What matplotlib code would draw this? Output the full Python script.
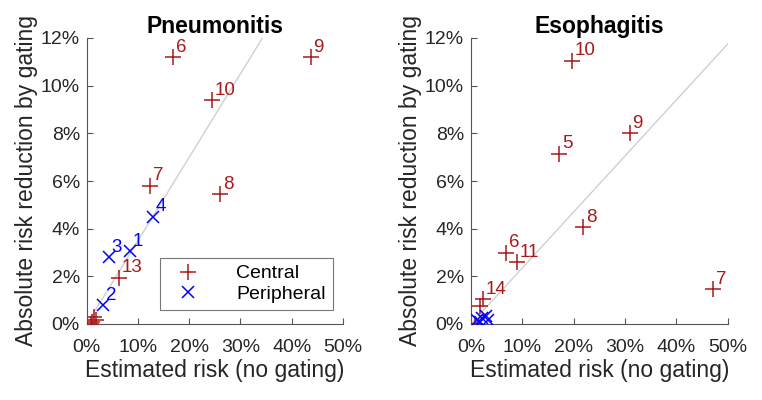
import matplotlib.pyplot as plt
import numpy as np

plt.rcParams['font.family'] = ['Liberation Sans', 'DejaVu Sans']

RED = '#A8191C'
BLUE = '#0000FF'

# Pneumonitis: estimated risk (%), absolute risk reduction (%), label
pn_central_x = [16.9, 43.7, 24.4, 12.3, 26.0, 6.3, 1.0, 1.4, 1.7, 0.9]
pn_central_y = [11.2, 11.2, 9.4, 5.8, 5.45, 1.95, 0.1, 0.3, 0.15, 0.0]
pn_central_lbl = ['6', '9', '10', '7', '8', '13', '', '', '', '']
pn_periph_x = [12.9, 4.3, 8.4, 3.2]
pn_periph_y = [4.5, 2.8, 3.05, 0.8]
pn_periph_lbl = ['4', '3', '1', '2']
pn_slope = 0.35

# Esophagitis
es_central_x = [19.7, 30.9, 17.2, 21.8, 6.8, 9.0, 47.1, 2.3, 1.8, 0.8]
es_central_y = [11.05, 8.0, 7.15, 4.05, 3.0, 2.6, 1.45, 1.05, 0.75, 0.0]
es_central_lbl = ['10', '9', '5', '8', '6', '11', '7', '14', '', '']
es_periph_x = [1.2, 2.1, 2.9, 3.3, 1.8]
es_periph_y = [0.17, 0.25, 0.34, 0.17, 0.08]
es_periph_lbl = ['', '', '', '', '']
es_slope = 0.235

fig = plt.figure(figsize=(7.62, 4.0), dpi=100)
ax1 = fig.add_axes([0.114, 0.19, 0.336, 0.715])
ax2 = fig.add_axes([0.618, 0.19, 0.337, 0.715])


def draw(ax, cx, cy, clbl, px, py, plbl, slope, title, legend=False):
    xs = np.array([0, 50])
    ax.plot(xs, slope * xs, color='#D0D0D0', lw=1, zorder=1)
    ax.plot(cx, cy, '+', color=RED, ms=11, mew=1.1, ls='none', label='Central', zorder=3)
    ax.plot(px, py, 'x', color=BLUE, ms=8, mew=1.1, ls='none', label='Peripheral', zorder=3)
    for x, y, t in zip(cx, cy, clbl):
        if t:
            ax.annotate(t, (x, y), xytext=(2, 1), textcoords='offset points',
                        ha='left', va='bottom', color=RED, fontsize=13.5)
    for x, y, t in zip(px, py, plbl):
        if t:
            ax.annotate(t, (x, y), xytext=(2, 1), textcoords='offset points',
                        ha='left', va='bottom', color=BLUE, fontsize=13.5)
    ax.set_xlim(0, 50)
    ax.set_ylim(0, 12)
    ax.set_xticks(np.arange(0, 51, 10))
    ax.set_yticks(np.arange(0, 13, 2))
    ax.set_xticklabels([f'{v}%' for v in range(0, 51, 10)])
    ax.set_yticklabels([f'{v}%' for v in range(0, 13, 2)])
    ax.spines['top'].set_visible(False)
    ax.spines['right'].set_visible(False)
    for s in ('left', 'bottom'):
        ax.spines[s].set_color('#555555')
    ax.tick_params(direction='in', length=4, labelsize=14, colors='#555555',
                   labelcolor='#262626')
    ax.tick_params(axis='x', pad=11)
    ax.tick_params(axis='y', pad=5)
    ax.set_xlabel('Estimated risk (no gating)', fontsize=16.5, color='#262626', labelpad=2)
    ax.set_ylabel('Absolute risk reduction by gating', fontsize=16.5, color='#262626', labelpad=2)
    ax.set_title(title, fontsize=16.5, fontweight='bold', pad=1)
    if legend:
        leg = ax.legend(loc='lower right', bbox_to_anchor=(0.96, 0.05), borderaxespad=0,
                        fontsize=14, frameon=True, fancybox=False, edgecolor='#555555',
                        handletextpad=1.4, borderpad=0.35, labelspacing=0.15,
                        handlelength=2.2)
        leg.get_frame().set_linewidth(0.8)


draw(ax1, pn_central_x, pn_central_y, pn_central_lbl, pn_periph_x, pn_periph_y,
     pn_periph_lbl, pn_slope, 'Pneumonitis', legend=True)
draw(ax2, es_central_x, es_central_y, es_central_lbl, es_periph_x, es_periph_y,
     es_periph_lbl, es_slope, 'Esophagitis')

fig.savefig('out.png', dpi=100, facecolor='white')
